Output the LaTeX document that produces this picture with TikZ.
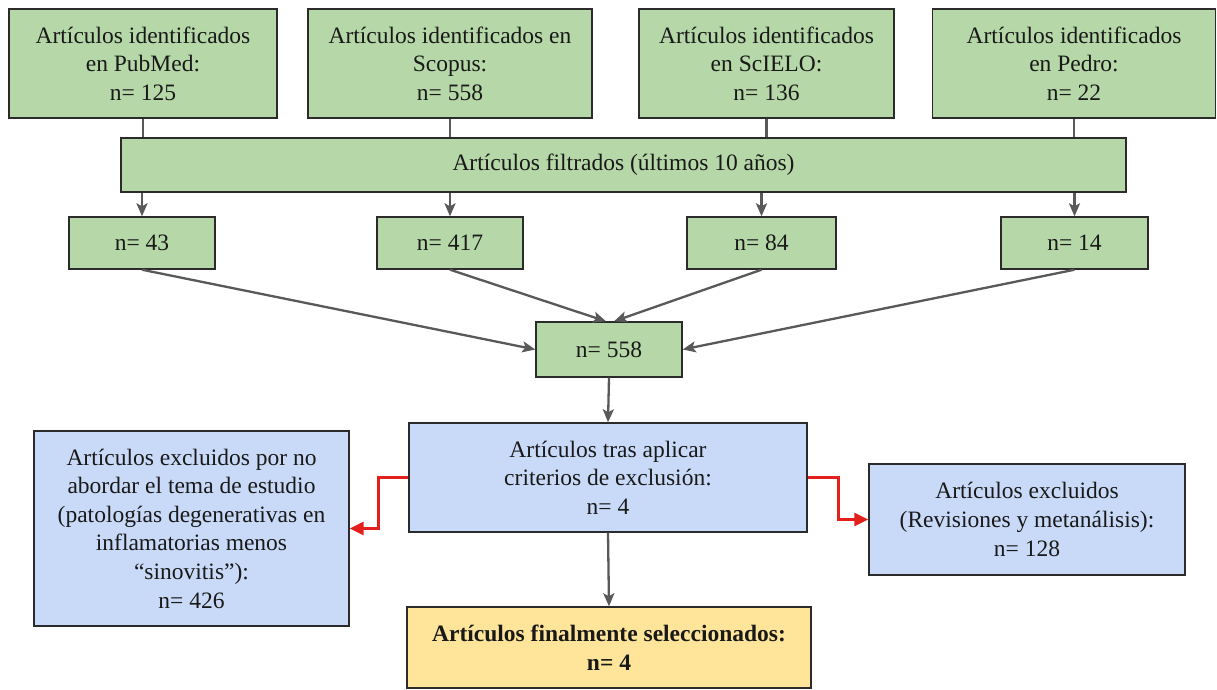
\documentclass[tikz,border=0pt]{standalone}
\usepackage{fontspec}
\setmainfont{LiberationSerif}[Extension=.ttf, UprightFont=*-Regular, BoldFont=*-Bold, ItalicFont=*-Italic, BoldItalicFont=*-BoldItalic]
\usetikzlibrary{arrows.meta}
\definecolor{boxgreen}{HTML}{B6D7A8}
\definecolor{boxblue}{HTML}{C9DAF8}
\definecolor{boxyellow}{HTML}{FFE599}
\definecolor{arrowgray}{HTML}{595959}
\definecolor{arrowred}{HTML}{E3201B}
\definecolor{bordercol}{HTML}{2B2B2B}
\tikzset{
  basebox/.style={draw=bordercol, line width=1.4pt, rectangle, align=center, inner sep=0pt,
    font=\fontsize{23.5}{28.6}\selectfont, text=black!90},
  greenbox/.style={basebox, fill=boxgreen},
  bluebox/.style={basebox, fill=boxblue},
  yellowbox/.style={basebox, fill=boxyellow, font=\fontsize{23.5}{28.6}\selectfont\bfseries},
  plainline/.style={draw=arrowgray, line width=2.3pt},
  grayarrow/.style={draw=arrowgray, line width=2.3pt, -{Stealth[length=13pt,width=11pt,inset=3pt]}},
  redarrow/.style={draw=arrowred, line width=2.8pt, -{Triangle[length=14pt,width=13pt]}}
}
\begin{document}
\begin{tikzpicture}[x=1pt,y=-1pt]
\useasboundingbox (0,0) rectangle (1217,689);
\fill[white] (0,0) rectangle (1217,689);

% top row
\node[greenbox, minimum width=268pt, minimum height=109pt] (pub) at (143,63.5)
  {Artículos identificados\\en PubMed:\\n= 125};
\node[greenbox, minimum width=284pt, minimum height=109pt] (sco) at (450,63.5)
  {Artículos identificados en\\Scopus:\\n= 558};
\node[greenbox, minimum width=255pt, minimum height=109pt] (sci) at (766.5,63.5)
  {Artículos identificados\\en ScIELO:\\n= 136};
\node[greenbox, minimum width=283pt, minimum height=109pt] (ped) at (1074,63.5)
  {Artículos identificados\\en Pedro:\\n= 22};

% filter
\node[greenbox, minimum width=1005pt, minimum height=54pt] (filt) at (623.5,165)
  {Artículos filtrados (últimos 10 años)};

% second row
\node[greenbox, minimum width=146pt, minimum height=52pt] (n43) at (142,243) {n= 43};
\node[greenbox, minimum width=146pt, minimum height=52pt] (n417) at (450,243) {n= 417};
\node[greenbox, minimum width=149pt, minimum height=52pt] (n84) at (761.5,243) {n= 84};
\node[greenbox, minimum width=147pt, minimum height=52pt] (n14) at (1074.5,243) {n= 14};

% merged
\node[greenbox, minimum width=146pt, minimum height=55pt] (n558) at (609,349.5) {n= 558};

% exclusion
\node[bluebox, minimum width=398pt, minimum height=109pt] (mid) at (608,477.5)
  {Artículos tras aplicar\\criterios de exclusión:\\n= 4};
\node[bluebox, minimum width=315pt, minimum height=195pt] (lblue) at (191.5,528.5)
  {Artículos excluidos por no\\abordar el tema de estudio\\(patologías degenerativas en\\inflamatorias menos\\“sinovitis”):\\n= 426};
\node[bluebox, minimum width=316pt, minimum height=111pt] (rblue) at (1027,519.5)
  {Artículos excluidos\\(Revisiones y metanálisis):\\n= 128};

% final
\node[yellowbox, minimum width=404pt, minimum height=81pt] (yel) at (609,647.5)
  {Artículos finalmente seleccionados:\\n= 4};

% connectors top -> filter
\draw[plainline] (pub.south) -- (pub.south |- filt.north);
\draw[plainline] (sco.south) -- (sco.south |- filt.north);
\draw[plainline] (sci.south) -- (sci.south |- filt.north);
\draw[plainline] (ped.south) -- (ped.south |- filt.north);

% filter -> second row
\draw[grayarrow] (n43.north |- filt.south) -- (n43.north);
\draw[grayarrow] (n417.north |- filt.south) -- (n417.north);
\draw[grayarrow] (n84.north |- filt.south) -- (n84.north);
\draw[grayarrow] (n14.north |- filt.south) -- (n14.north);

% converge
\draw[grayarrow] (n43.south) -- (n558.west);
\draw[grayarrow] (n417.south) -- ([xshift=-3pt]n558.north);
\draw[grayarrow] (n84.south) -- ([xshift=5pt]n558.north);
\draw[grayarrow] (n14.south) -- (n558.east);

% down
\draw[grayarrow] (n558.south) -- (mid.north);
\draw[grayarrow] (mid.south) -- (yel.north);

% red exclusions
\draw[redarrow] (mid.west) -- ++(-30,0) |- (lblue.east);
\draw[redarrow] (mid.east) -- ++(31,0) |- (rblue.west);
\end{tikzpicture}
\end{document}
